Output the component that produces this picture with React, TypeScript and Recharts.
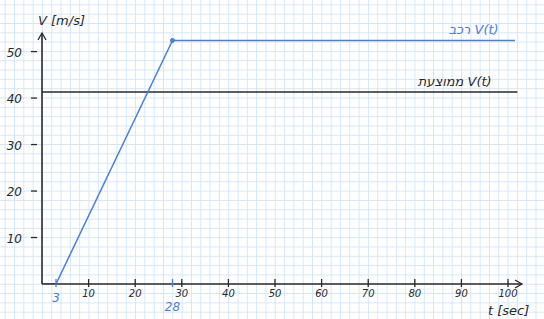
import React from 'react'
import { LineChart, Line, XAxis, YAxis, ReferenceDot } from 'recharts'

const carTime = [0, 3, 28, 101.5]
const carSpeed = [0, 0, 52.4, 52.4]
const avgTime = [0, 102]
const avgSpeed = [41.3, 41.3]
const xTicks = [3, 10, 20, 28, 30, 40, 50, 60, 70, 80, 90, 100]
const yTicks = [10, 20, 30, 40, 50]
const blueTicks = [3, 28]

const carData = carTime.map((t, i) => ({ t, v: carSpeed[i] }))
const avgData = avgTime.map((t, i) => ({ t, v: avgSpeed[i] }))

const BLUE = '#4a7fd8'
const INK = '#2a2a2a'
const FONT = '"DejaVu Sans", sans-serif'

// tick y arrives ~8px below the axis line (tick size + margin)
const XTick = (props: any) => {
  const { x, y, payload } = props
  const val = payload.value
  const blue = blueTicks.includes(val)
  return (
    <g>
      <line x1={x} x2={x} y1={y - 13} y2={y - 5} stroke={blue ? BLUE : INK} strokeWidth={1.3} />
      <text
        x={x}
        y={val === 28 ? y + 19 : y + (blue ? 10 : 5)}
        textAnchor="middle"
        fontSize={blue ? 12 : 10}
        fontFamily={FONT}
        fill={blue ? BLUE : INK}
        fontStyle="italic"
      >
        {val}
      </text>
    </g>
  )
}

const YTick = (props: any) => {
  const { x, y, payload } = props
  return (
    <g>
      <line x1={x - 3} x2={x + 3} y1={y} y2={y} stroke={INK} strokeWidth={1.3} />
      <text x={x - 12} y={y + 5} textAnchor="end" fontSize={12} fontFamily={FONT} fill={INK} fontStyle="italic">
        {payload.value}
      </text>
    </g>
  )
}

const ArrowRight = (props: any) => (
  <path d={`M${props.cx - 7},${props.cy - 4} L${props.cx},${props.cy} L${props.cx - 7},${props.cy + 4}`} fill="none" stroke={INK} strokeWidth={1.3} />
)

const ArrowUp = (props: any) => (
  <path d={`M${props.cx - 4},${props.cy + 7} L${props.cx},${props.cy} L${props.cx + 4},${props.cy + 7}`} fill="none" stroke={INK} strokeWidth={1.3} />
)

const TextMark = (text: string, color: string, dx: number, dy: number, anchor: string) => (props: any) => (
  <text x={props.cx + dx} y={props.cy + dy} textAnchor={anchor} fill={color} fontSize={13} fontFamily={FONT} fontStyle="italic">
    {text}
  </text>
)

const CarLabel = TextMark('רכב V(t)', BLUE, 0, -6, 'end')
const AvgLabel = TextMark('ממוצעת V(t)', INK, 0, -6, 'end')
const VLabel = TextMark('V [m/s]', INK, -4, -8, 'start')
const TLabel = TextMark('t [sec]', INK, -34, 31, 'start')

export default function App() {
  const cell = 9.32
  return (
    <div
      style={{
        position: 'fixed',
        left: 0,
        top: 0,
        width: 544,
        height: 319,
        backgroundColor: '#ffffff',
        backgroundImage:
          'linear-gradient(to right, #d3e6f7 1px, transparent 1px), linear-gradient(to bottom, #d3e6f7 1px, transparent 1px)',
        backgroundSize: `${cell}px ${cell}px`,
        backgroundPosition: `${42 % cell}px ${284 % cell}px`,
      }}
    >
      <LineChart width={544} height={319} margin={{ top: 33, right: 22, bottom: 0, left: 0 }}>
        <XAxis
          type="number"
          dataKey="t"
          domain={[0, 103]}
          ticks={xTicks}
          interval={0}
          tick={<XTick />}
          tickLine={false}
          axisLine={{ stroke: INK, strokeWidth: 1.6 }}
          height={35}
          allowDataOverflow
        />
        <YAxis
          type="number"
          dataKey="v"
          domain={[0, 54]}
          ticks={yTicks}
          interval={0}
          tick={<YTick />}
          tickLine={false}
          axisLine={{ stroke: INK, strokeWidth: 1.6 }}
          width={42}
          allowDataOverflow
        />
        <Line data={avgData} dataKey="v" stroke={INK} strokeWidth={1.4} dot={false} isAnimationActive={false} />
        <Line data={carData} dataKey="v" stroke={BLUE} strokeWidth={1.5} dot={false} isAnimationActive={false} />
        <ReferenceDot x={28} y={52.4} r={2} fill={BLUE} stroke={BLUE} />
        <ReferenceDot x={103} y={0} r={0} shape={<ArrowRight />} ifOverflow="visible" />
        <ReferenceDot x={0} y={54} r={0} shape={<ArrowUp />} ifOverflow="visible" />
        <ReferenceDot x={98} y={52.4} r={0} shape={CarLabel} ifOverflow="visible" />
        <ReferenceDot x={96.5} y={41.3} r={0} shape={AvgLabel} ifOverflow="visible" />
        <ReferenceDot x={0} y={54} r={0} shape={VLabel} ifOverflow="visible" />
        <ReferenceDot x={103} y={0} r={0} shape={TLabel} ifOverflow="visible" />
      </LineChart>
    </div>
  )
}
